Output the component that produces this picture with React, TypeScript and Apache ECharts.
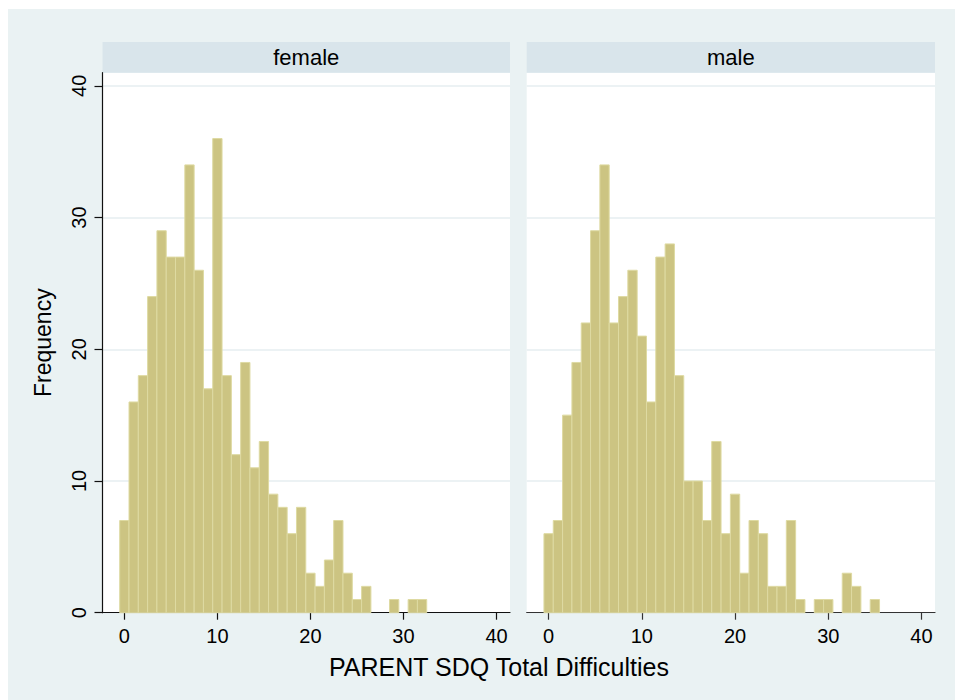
import React, { useEffect, useRef } from "react";
import * as echarts from "echarts";

const scores = [0, 1, 2, 3, 4, 5, 6, 7, 8, 9, 10, 11, 12, 13, 14, 15, 16, 17, 18, 19, 20, 21, 22, 23, 24, 25, 26, 27, 28, 29, 30, 31, 32, 33, 34, 35];
const femaleCounts = [7, 16, 18, 24, 29, 27, 27, 34, 26, 17, 36, 18, 12, 19, 11, 13, 9, 8, 6, 8, 3, 2, 4, 7, 3, 1, 2, 0, 0, 1, 0, 1, 1];
const maleCounts = [6, 7, 15, 19, 22, 29, 34, 22, 24, 26, 21, 16, 27, 28, 18, 10, 10, 7, 13, 6, 9, 3, 7, 6, 2, 2, 7, 1, 0, 1, 1, 0, 3, 2, 0, 1];
const panelNames = ["female", "male"];
const tickValues = [0, 10, 20, 30, 40];
const xTitle = "PARENT SDQ Total Difficulties";
const yTitle = "Frequency";

const FONT = "'Liberation Sans', Arial, Helvetica, sans-serif";
const BG = "#EAF2F3";
const STRIP = "#D9E5EB";
const GRID = "#E6EEF0";
const BAR_FILL = "#CCC482";
const BAR_EDGE = "#DEDAA2";

export default function App() {
  const ref = useRef<HTMLDivElement>(null);
  useEffect(() => {
    if (!ref.current) return;
    const chart = echarts.init(ref.current, undefined, { renderer: "svg" });

    const grids = [
      { left: 94.5, top: 63.7, width: 407.5, height: 540 },
      { left: 518.7, top: 63.7, width: 408.3, height: 540 },
    ];

    const renderBar = (params: any, api: any) => {
      const x = api.value(0);
      const y = api.value(1);
      if (!y) return null;
      const p0 = api.coord([x - 0.5, y]);
      const p1 = api.coord([x + 0.5, 0]);
      return {
        type: "rect",
        shape: { x: p0[0], y: p0[1], width: p1[0] - p0[0], height: p1[1] - p0[1] },
        style: { fill: BAR_FILL, stroke: BAR_EDGE, lineWidth: 1 },
      };
    };

    const makeData = (counts: number[]) => counts.map((c, i) => [scores[i], c]);

    const option: any = {
      animation: false,
      backgroundColor: BG,
      textStyle: { fontFamily: FONT },
      grid: grids.map((g) => ({
        ...g,
        show: true,
        backgroundColor: "#ffffff",
        borderWidth: 0,
      })),
      xAxis: [0, 1].map((i) => ({
        type: "value",
        gridIndex: i,
        min: -2.35,
        max: 41.45,
        axisLine: { show: true, onZero: false, lineStyle: { color: i === 0 ? "#111" : "#333", width: 1.2 } },
        axisTick: { show: true, length: 7, customValues: tickValues, lineStyle: { color: i === 0 ? "#111" : "#333", width: 1.2 } },
        axisLabel: {
          show: true,
          customValues: tickValues,
          margin: 13,
          fontSize: 20,
          color: "#000",
          fontFamily: FONT,
        },
        splitLine: { show: false },
      })),
      yAxis: [0, 1].map((i) => ({
        type: "value",
        gridIndex: i,
        min: 0,
        max: 41,
        name: i === 0 ? yTitle : "",
        nameLocation: "middle",
        nameGap: 48,
        nameRotate: 90,
        nameTextStyle: { fontSize: 23, color: "#000", fontFamily: FONT },
        axisLine: { show: i === 0, onZero: false, lineStyle: { color: "#111", width: 1.2 } },
        axisTick: { show: i === 0, length: 8, customValues: tickValues, lineStyle: { color: "#111", width: 1.2 } },
        axisLabel: {
          show: i === 0,
          customValues: tickValues,
          rotate: 90,
          margin: 14,
          fontSize: 20,
          color: "#000",
          fontFamily: FONT,
        },
        splitLine: { show: true, lineStyle: { color: GRID, width: 1.5 } },
      })),
      series: [
        {
          type: "custom",
          xAxisIndex: 0,
          yAxisIndex: 0,
          renderItem: renderBar,
          data: makeData(femaleCounts),
          z: 3,
        },
        {
          type: "custom",
          xAxisIndex: 1,
          yAxisIndex: 1,
          renderItem: renderBar,
          data: makeData(maleCounts),
          z: 3,
        },
      ],
      graphic: [
        ...grids.map((g, i) => ({
          type: "group",
          children: [
            {
              type: "rect",
              shape: { x: g.left, y: 33, width: g.width, height: 30.7 },
              style: { fill: STRIP },
            },
            {
              type: "text",
              x: g.left + g.width / 2,
              y: 48,
              style: {
                text: panelNames[i],
                fontSize: 22,
                fontFamily: FONT,
                fill: "#000",
                align: "center",
                verticalAlign: "middle",
              },
            },
          ],
        })),
        {
          type: "text",
          x: 491,
          y: 658,
          style: {
            text: xTitle,
            fontSize: 25,
            fontFamily: FONT,
            fill: "#000",
            align: "center",
            verticalAlign: "middle",
          },
        },
      ],
    };
    chart.setOption(option);
    return () => chart.dispose();
  }, []);
  return (
    <div
      ref={ref}
      style={{ position: "fixed", left: 8, top: 9, width: 960, height: 700 }}
    />
  );
}
